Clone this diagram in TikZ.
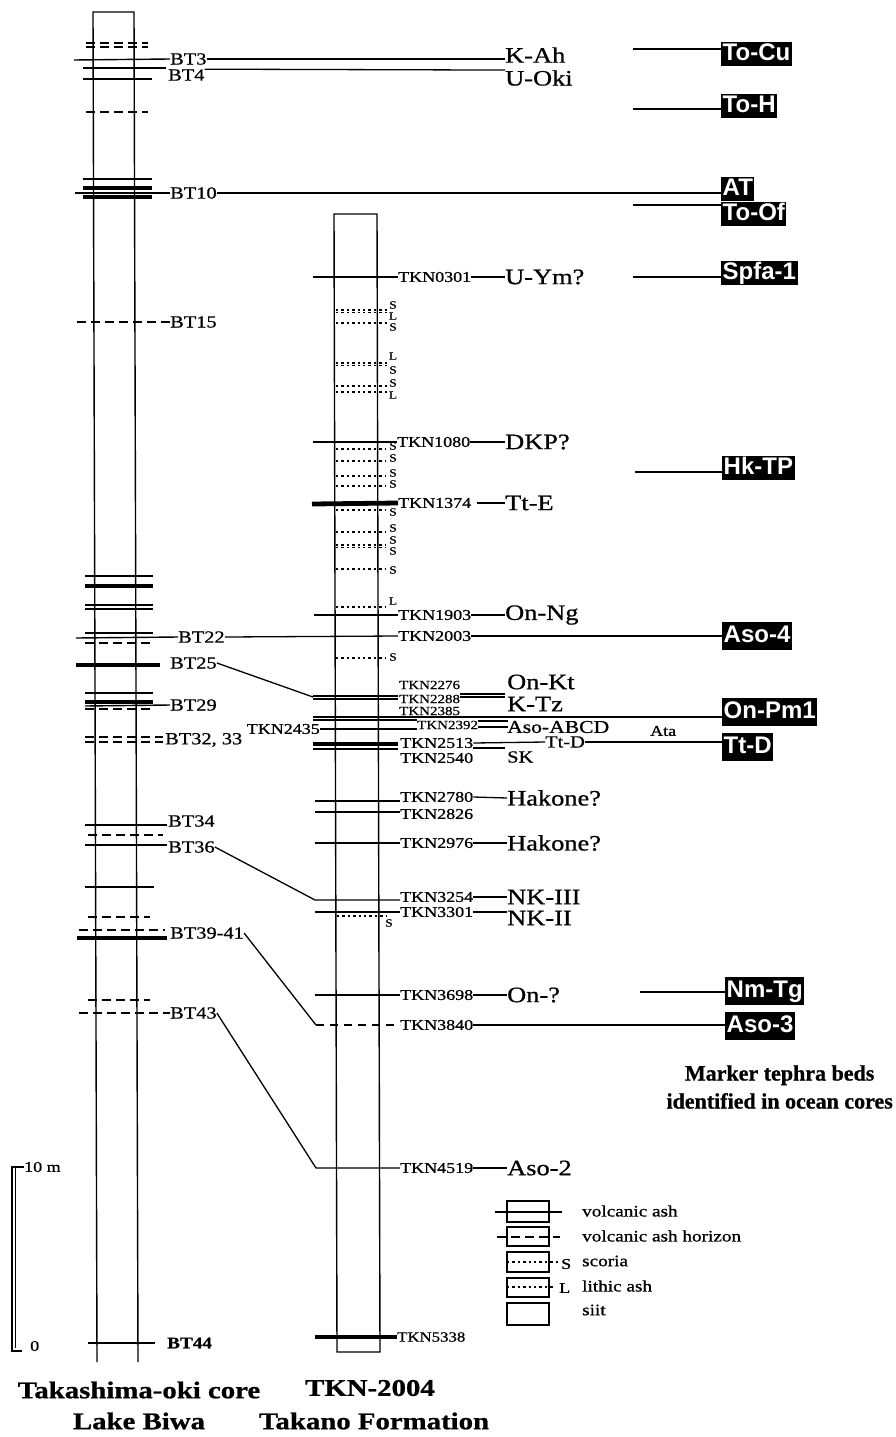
\documentclass[tikz,border=0pt]{standalone}
\usepackage{fontspec}
\setmainfont{Liberation Serif}[FakeStretch=1.2, FakeBold=0.8]
\newfontfamily\plainserif{Liberation Serif}[FakeBold=0.8]
\newfontfamily\mksans{Liberation Sans}
\newcommand\fsz[1]{\fontsize{#1}{#1}\selectfont}
\tikzset{
  lab/.style={inner sep=0pt, anchor=west},
  bt/.style={lab, font=\fsz{17}},
  tkn/.style={lab, font=\fsz{15}},
  tkns/.style={lab, font=\fsz{12.5}},
  corr/.style={lab, font=\fsz{22}},
  mk/.style={fill=black, text=white, font=\mksans\bfseries\fsz{24}, inner xsep=1.5pt, inner ysep=0.5pt, text height=18pt, text depth=4.5pt, anchor=west},
  mkt/.style={mk, text height=20pt, text depth=7pt},
  sl/.style={inner sep=0pt, font=\fsz{11}},
  ash/.style={line width=1.4pt},
  tash/.style={line width=3.6pt},
  hz/.style={line width=1.4pt, dash pattern=on 9pt off 5pt},
  sc/.style={line width=1.3pt, dash pattern=on 2.4pt off 3pt},
  conn/.style={line width=1.3pt},
  ttl/.style={font=\fsz{24}\bfseries, inner sep=0pt},
  leg/.style={lab, font=\fsz{16}},
}
\begin{document}
\begin{tikzpicture}[x=1pt,y=-1pt]
\fill[white] (0,0) rectangle (895,1437);
\useasboundingbox (0,0) rectangle (895,1437);

% ---------- left column labels ----------
\node[bt] (bt3) at (170,59) {BT3};
\node[bt] (bt4) at (168,75) {BT4};
\node[bt] (bt10) at (170,193) {BT10};
\node[bt] (bt15) at (170,322) {BT15};
\node[bt] (bt22) at (178,637) {BT22};
\node[bt] (bt25) at (170,663) {BT25};
\node[bt] (bt29) at (170,705) {BT29};
\node[bt] (bt32) at (165,740) {BT32, 33};
\node[bt] (bt34) at (168,821) {BT34};
\node[bt] (bt36) at (168,847) {BT36};
\node[bt] (bt39) at (170,933) {BT39-41};
\node[bt] (bt43) at (170,1013) {BT43};
\node[bt, font=\fsz{16}\bfseries] (bt44) at (167,1343) {BT44};

% ---------- left column ----------
\draw[ash] (97,1362) -- (93,12) -- (134,12) -- (138,1362);
\draw[hz] (86,43) -- (148,43);
\draw[hz] (86,47) -- (148,47);
\draw[ash] (74,60) -- (bt3.west);
\draw[ash] (83,68) -- (166,68);
\draw[ash] (83,79) -- (152,79);
\draw[hz] (86,112) -- (148,112);
\draw[ash] (83,179) -- (152,179);
\draw[tash] (83,188) -- (152,188);
\draw[ash] (75,193) -- (bt10.west);
\draw[tash] (83,197) -- (152,197);
\draw[hz] (77,322) -- (bt15.west);
\draw[ash] (85,576) -- (153,576);
\draw[tash] (85,586) -- (153,586);
\draw[ash] (85,605) -- (153,605);
\draw[ash] (85,609) -- (153,609);
\draw[ash] (85,633) -- (153,633);
\draw[ash] (76,638) -- (bt22.west);
\draw[hz] (85,643) -- (153,643);
\draw[tash] (76,665) -- (160,665);
\draw[ash] (85,693) -- (153,693);
\draw[tash] (85,702) -- (153,702);
\draw[ash] (85,706) -- (bt29.west);
\draw[hz] (85,709) -- (153,709);
\draw[hz] (85,737) -- (163,737);
\draw[hz] (85,742) -- (163,742);
\draw[ash] (85,825) -- (167,825);
\draw[hz] (88,835) -- (163,835);
\draw[ash] (85,845) -- (167,845);
\draw[ash] (85,887) -- (154,887);
\draw[hz] (88,917) -- (150,917);
\draw[hz] (79,930) -- (165,930);
\draw[tash] (77,938) -- (167,938);
\draw[hz] (88,1000) -- (150,1000);
\draw[hz] (79,1013) -- (bt43.west);
\draw[ash] (88,1343) -- (155,1343);

% ---------- middle labels ----------
\node[tkn] (tkn0301) at (398,277) {TKN0301};
\node[tkn] (tkn1080) at (397,442) {TKN1080};
\node[tkn] (tkn1374) at (398,503) {TKN1374};
\node[tkn] (tkn1903) at (398,615) {TKN1903};
\node[tkn] (tkn2003) at (398,636) {TKN2003};
\node[tkns] (tkn2276) at (399,685) {TKN2276};
\node[tkns] (tkn2288) at (399,699) {TKN2288};
\node[tkns] (tkn2385) at (399,711) {TKN2385};
\node[tkn, anchor=east] (tkn2435) at (320,729) {TKN2435};
\node[tkns] (tkn2392) at (417,725) {TKN2392};
\node[tkn] (tkn2513) at (400,743) {TKN2513};
\node[tkn] (tkn2540) at (400,758) {TKN2540};
\node[tkn] (tkn2780) at (400,797) {TKN2780};
\node[tkn] (tkn2826) at (400,814) {TKN2826};
\node[tkn] (tkn2976) at (400,843) {TKN2976};
\node[tkn] (tkn3254) at (400,897) {TKN3254};
\node[tkn] (tkn3301) at (400,912) {TKN3301};
\node[tkn] (tkn3698) at (400,995) {TKN3698};
\node[tkn] (tkn3840) at (400,1025) {TKN3840};
\node[tkn] (tkn4519) at (400,1168) {TKN4519};
\node[tkn, font=\fsz{14}] (tkn5338) at (397,1337) {TKN5338};

% ---------- correlation labels ----------
\node[corr] (kah) at (505,55) {K-Ah};
\node[corr] (uoki) at (505,78) {U-Oki};
\node[corr] (uym) at (505,277) {U-Ym?};
\node[corr] (dkp) at (505,442) {DKP?};
\node[corr] (tte) at (505,503) {Tt-E};
\node[corr] (onng) at (505,615) {On-Ng};
\node[corr] (onkt) at (507,682) {On-Kt};
\node[corr] (ktz) at (507,704) {K-Tz};
\node[corr, font=\fsz{18}] (asoabcd) at (507,727) {Aso-ABCD};
\node[lab, font=\fsz{15}] (ata) at (650,731) {Ata};
\node[lab, font=\fsz{17}] (ttd) at (545,742) {Tt-D};
\node[lab, font=\fsz{17}] (sk) at (507,757) {SK};
\node[corr] (hak1) at (507,798) {Hakone?};
\node[corr] (hak2) at (507,843) {Hakone?};
\node[corr] (nk3) at (507,897) {NK-III};
\node[corr] (nk2) at (507,918) {NK-II};
\node[corr] (onq) at (507,995) {On-?};
\node[corr] (aso2) at (507,1168) {Aso-2};

% ---------- markers ----------
\node[mk] (tocu) at (721,54) {To-Cu};
\node[mk] (toh) at (721,106) {To-H};
\node[mk] (at) at (721,189) {AT};
\node[mk] (toof) at (721,214) {To-Of};
\node[mk] (spfa) at (721,273) {Spfa-1};
\node[mk] (hktp) at (722,468) {Hk-TP};
\node[mkt] (aso4) at (722,636) {Aso-4};
\node[mkt] (onpm) at (722,712) {On-Pm1};
\node[mkt] (ttdm) at (722,747) {Tt-D};
\node[mkt] (nmtg) at (725,991) {Nm-Tg};
\node[mkt] (aso3) at (725,1026) {Aso-3};

% ---------- middle column ----------
\draw[ash] (334,214) -- (377,214) -- (380,1352) -- (337,1352) -- cycle;
\draw[ash] (313,277) -- (tkn0301.west);
\draw[sc] (336,310) -- (388,310);
\draw[sc] (336,312.5) -- (388,312.5);
\draw[sc] (336,323) -- (388,323);
\draw[sc] (336,363) -- (388,363);
\draw[sc] (336,365.5) -- (388,365.5);
\draw[sc] (336,386) -- (388,386);
\draw[sc] (336,392) -- (388,392);
\node[sl] (l1) at (393,305) {S};
\node[sl] (l2) at (393,316) {L};
\node[sl] (l3) at (393,327) {S};
\node[sl] (l4) at (393,356) {L};
\node[sl] (l5) at (393,370) {S};
\node[sl] (l6) at (393,383) {S};
\node[sl] (l7) at (393,395) {L};
\draw[ash] (313,442) -- (tkn1080.west);
\draw[sc] (336,449) -- (386,449);
\draw[sc] (336,461) -- (386,461);
\draw[sc] (336,476) -- (386,476);
\draw[sc] (336,486) -- (386,486);
\node[sl] (l8) at (393,446) {S};
\node[sl] (l9) at (393,458) {S};
\node[sl] (l10) at (393,473) {S};
\node[sl] (l11) at (393,484) {S};
\draw[line width=4.8pt] (312,504) -- (tkn1374.west);
\draw[sc] (336,510) -- (386,510);
\node[sl] (l12) at (393,512) {S};
\draw[sc] (336,532) -- (386,532);
\draw[sc] (336,545) -- (386,545);
\draw[sc] (336,547.5) -- (386,547.5);
\node[sl] (l13) at (393,528) {S};
\node[sl] (l14) at (393,540) {S};
\node[sl] (l15) at (393,551) {S};
\draw[sc] (336,569) -- (386,569);
\node[sl] (l16) at (393,570) {S};
\draw[sc] (336,607) -- (386,607);
\node[sl] (l17) at (393,601) {L};
\draw[ash] (314,615) -- (tkn1903.west);
\draw[sc] (336,658) -- (386,658);
\node[sl] (l18) at (393,657) {S};
\draw[ash] (313,696) -- (398,696);
\draw[ash] (313,699) -- (398,699);
\coordinate (j720) at (313,720);
\draw[ash] (j720) -- (j720 -| tkn2392.west);
\draw[line width=4pt] (313,744) -- (398,744);
\draw[ash] (313,749) -- (398,749);
\draw[ash] (315,801) -- (400,801);
\draw[ash] (315,812) -- (400,812);
\draw[ash] (315,843) -- (tkn2976.west);
\draw[ash] (315,912) -- (tkn3301.west);
\draw[sc] (337,916) -- (386,916);
\node[sl] (l19) at (389,923) {S};
\draw[ash] (315,995) -- (tkn3698.west);
\draw[line width=4pt] (315,1337) -- (tkn5338.west);

% ---------- connectors ----------
\draw[conn] (bt3.east) -- (kah.west |- bt3.east);
\draw[conn] (bt4.north east) -- (uoki.north west);
\draw[conn] (bt10.east) -- (at.west |- bt10.east);
\draw[conn] (bt22.east) -- (tkn2003.west);
\draw[conn] (tkn2003.east) -- (aso4.west |- tkn2003.east);
\coordinate (j25) at (313,697);
\draw[conn] (bt25.east) -- (j25);
\coordinate (j36) at (315,900);
\draw[conn] (bt36.east) -- (j36) -- (j36 -| tkn3254.west);
\coordinate (j39) at (316,1025);
\draw[conn] (bt39.east) -- (j39);
\draw[conn, dash pattern=on 8pt off 6pt] (j39) -- (tkn3840.west);
\coordinate (j43) at (316,1168);
\draw[conn] (bt43.east) -- (j43) -- (tkn4519.west);

\draw[conn] (tkn0301.east) -- (uym.west);
\draw[conn] (tkn1080.east) -- (dkp.west);
\draw[conn, shorten <=6pt] (tkn1374.east) -- (tte.west);
\draw[conn] (tkn1903.east) -- (onng.west);
\draw[ash] (tkn2288.east) ++(0,-5) -- ++(45,0);
\draw[ash] (tkn2288.east) ++(0,-2) -- ++(45,0);
\coordinate (jpm) at (313,717);
\draw[conn] (jpm) -- (jpm -| onpm.west);
\draw[conn] (tkn2435.east) -- (tkn2435.east -| tkn2392.west);
\draw[conn] (tkn2392.east) ++(0,-4) -- ++(30,0);
\draw[conn] (tkn2392.east) ++(0,2) -- ++(30,0);
\draw[conn] (tkn2513.east) -- (ttd.west);
\draw[conn] (ttd.east) -- (ttd.east -| ttdm.west);
\draw[conn] (tkn2513.east) ++(0,5) -- ++(32,0);
\draw[conn] (tkn2780.east) -- (hak1.west);
\draw[conn] (tkn2976.east) -- (hak2.west);
\draw[conn] (tkn3254.east) -- (nk3.west);
\draw[conn] (tkn3301.east) -- (tkn3301.east -| nk2.west);
\draw[conn] (tkn3698.east) -- (onq.west);
\draw[conn] (tkn3840.east) -- (tkn3840.east -| aso3.west);
\draw[conn] (tkn4519.east) -- (aso2.west);

\coordinate (ctocu) at (633,49);
\draw[conn] (ctocu) -- (ctocu -| tocu.west);
\coordinate (ctoh) at (633,109);
\draw[conn] (ctoh) -- (ctoh -| toh.west);
\coordinate (ctoof) at (633,205);
\draw[conn] (ctoof) -- (ctoof -| toof.west);
\coordinate (cspfa) at (633,277);
\draw[conn] (cspfa) -- (cspfa -| spfa.west);
\coordinate (chktp) at (635,472);
\draw[conn] (chktp) -- (chktp -| hktp.west);
\coordinate (cnmtg) at (640,992);
\draw[conn] (cnmtg) -- (cnmtg -| nmtg.west);

% ---------- headings ----------
\node[inner sep=0pt, align=center, anchor=east, font=\plainserif\fsz{22}\bfseries] (mhead) at (893,1087) {Marker tephra beds\\[6pt]identified in ocean cores};
\node[ttl] (t1) at (139,1390) {Takashima-oki core};
\node[ttl] (t1b) at (139,1421) {Lake Biwa};
\node[ttl] (t2) at (370,1388) {TKN-2004};
\node[ttl] (t2b) at (374,1421) {Takano Formation};

% ---------- scale bar ----------
\draw[line width=1.4pt] (12,1166) -- (12,1351) -- (22,1351);
\draw[line width=1.4pt] (15.5,1166) -- (15.5,1348);
\draw[line width=1.4pt] (12,1167) -- (24,1167);
\node[lab, font=\fsz{15}] (ten) at (24,1167) {10 m};
\node[lab, font=\fsz{15}] (zero) at (30,1346) {0};

% ---------- legend ----------
\draw[ash] (507,1201) rectangle (549,1222);
\draw[ash] (495,1212) -- (562,1212);
\draw[ash] (507,1227) rectangle (549,1246);
\draw[hz] (497,1237) -- (560,1237);
\draw[ash] (507,1252) rectangle (549,1272);
\draw[sc] (507,1262) -- (560,1262);
\draw[ash] (507,1278) rectangle (549,1297);
\draw[sc] (507,1287) -- (553,1287);
\draw[ash] (507,1303) rectangle (549,1325);
\node[lab, font=\fsz{15}] (legS) at (561,1264) {S};
\node[lab, font=\fsz{15}] (legL) at (559,1288) {L};
\node[leg] (lg1) at (582,1211) {volcanic ash};
\node[leg] (lg2) at (582,1236) {volcanic ash horizon};
\node[leg] (lg3) at (582,1261) {scoria};
\node[leg] (lg4) at (582,1286) {lithic ash};
\node[leg] (lg5) at (582,1310) {siit};
\end{tikzpicture}
\end{document}
